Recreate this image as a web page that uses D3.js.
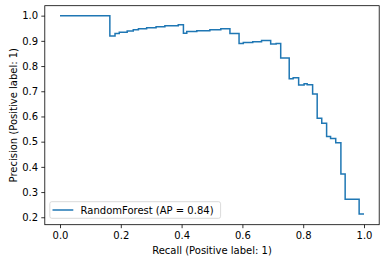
<html>
<script src="https://d3js.org/d3.v7.min.js"></script>
<style>
  body {margin: 0; background: white;}
  text {font-family: "DejaVu Sans", sans-serif; font-size: 10px; fill: #000;}
  .axis path, .axis line {stroke: #000; stroke-width: 0.8;}
</style>
<body>
<svg width="386" height="262"></svg>
<script>
// recall at the right end of each step, and the precision of that step
var recall = [0, 0.164, 0.181, 0.195, 0.221, 0.241, 0.258, 0.285, 0.316, 0.345, 0.389, 0.406,
              0.417, 0.450, 0.493, 0.529, 0.559, 0.589, 0.603, 0.634, 0.663, 0.693, 0.711, 0.726,
              0.754, 0.767, 0.785, 0.803, 0.813, 0.831, 0.846, 0.861, 0.877, 0.890, 0.907, 0.924,
              0.938, 0.984, 1.0];
var precision = [1.0, 1.0, 0.919, 0.929, 0.934, 0.939, 0.944, 0.948, 0.952, 0.956, 0.960, 0.964,
                 0.930, 0.937, 0.940, 0.944, 0.948, 0.929, 0.890, 0.893, 0.896, 0.901, 0.888, 0.890,
                 0.832, 0.750, 0.754, 0.725, 0.730, 0.726, 0.689, 0.593, 0.573, 0.520, 0.513, 0.496,
                 0.372, 0.271, 0.213];
var xTicks = [0, 0.2, 0.4, 0.6, 0.8, 1.0];
var yTicks = [0.2, 0.3, 0.4, 0.5, 0.6, 0.7, 0.8, 0.9, 1.0];
var legendLabel = "RandomForest (AP = 0.84)";

var plotL = 44.8, plotR = 379.2, plotT = 5.7, plotB = 224.7;
var x = d3.scaleLinear().domain([-0.05, 1.05]).range([plotL, plotR]);
var y = d3.scaleLinear().domain([0.1705, 1.0395]).range([plotB, plotT]);

var svg = d3.select("svg");

var pts = recall.map(function(r, i) { return [r, precision[i]]; });
var line = d3.line()
  .x(function(d) { return x(d[0]); })
  .y(function(d) { return y(d[1]); })
  .curve(d3.curveStepBefore);

svg.append("path")
  .attr("d", line(pts))
  .attr("fill", "none")
  .attr("stroke", "#1f77b4")
  .attr("stroke-width", 1.5);

// frame
svg.append("rect")
  .attr("x", plotL).attr("y", plotT)
  .attr("width", plotR - plotL).attr("height", plotB - plotT)
  .attr("fill", "none").attr("stroke", "#000").attr("stroke-width", 0.8);

var xAxis = d3.axisBottom(x).tickValues(xTicks).tickFormat(d3.format(".1f"))
  .tickSize(3.5).tickPadding(3.4);
svg.append("g").attr("class", "axis")
  .attr("transform", "translate(0," + plotB + ")")
  .call(xAxis)
  .call(function(g) { g.select(".domain").remove(); });

var yAxis = d3.axisLeft(y).tickValues(yTicks).tickFormat(d3.format(".1f"))
  .tickSize(3.5).tickPadding(3.2);
svg.append("g").attr("class", "axis")
  .attr("transform", "translate(" + plotL + ",0)")
  .call(yAxis)
  .call(function(g) { g.select(".domain").remove(); });

svg.selectAll(".axis text").style("font-size", "10px").style("font-family", "DejaVu Sans");

svg.append("text")
  .attr("x", (plotL + plotR) / 2).attr("y", 254)
  .attr("text-anchor", "middle")
  .text("Recall (Positive label: 1)");

svg.append("text")
  .attr("transform", "translate(17.3," + ((plotT + plotB) / 2) + ") rotate(-90)")
  .attr("text-anchor", "middle")
  .text("Precision (Positive label: 1)");

// legend
var lg = svg.append("g");
lg.append("rect")
  .attr("x", 49.8).attr("y", 201.7).attr("width", 170.8).attr("height", 16.6)
  .attr("rx", 2)
  .attr("fill", "white").attr("fill-opacity", 0.8)
  .attr("stroke", "#d0d0d0").attr("stroke-width", 0.8);
lg.append("line")
  .attr("x1", 52.5).attr("x2", 73.3).attr("y1", 210).attr("y2", 210)
  .attr("stroke", "#1f77b4").attr("stroke-width", 1.5);
lg.append("text")
  .attr("x", 80.6).attr("y", 213.6)
  .text(legendLabel);
</script>
</body>
</html>
